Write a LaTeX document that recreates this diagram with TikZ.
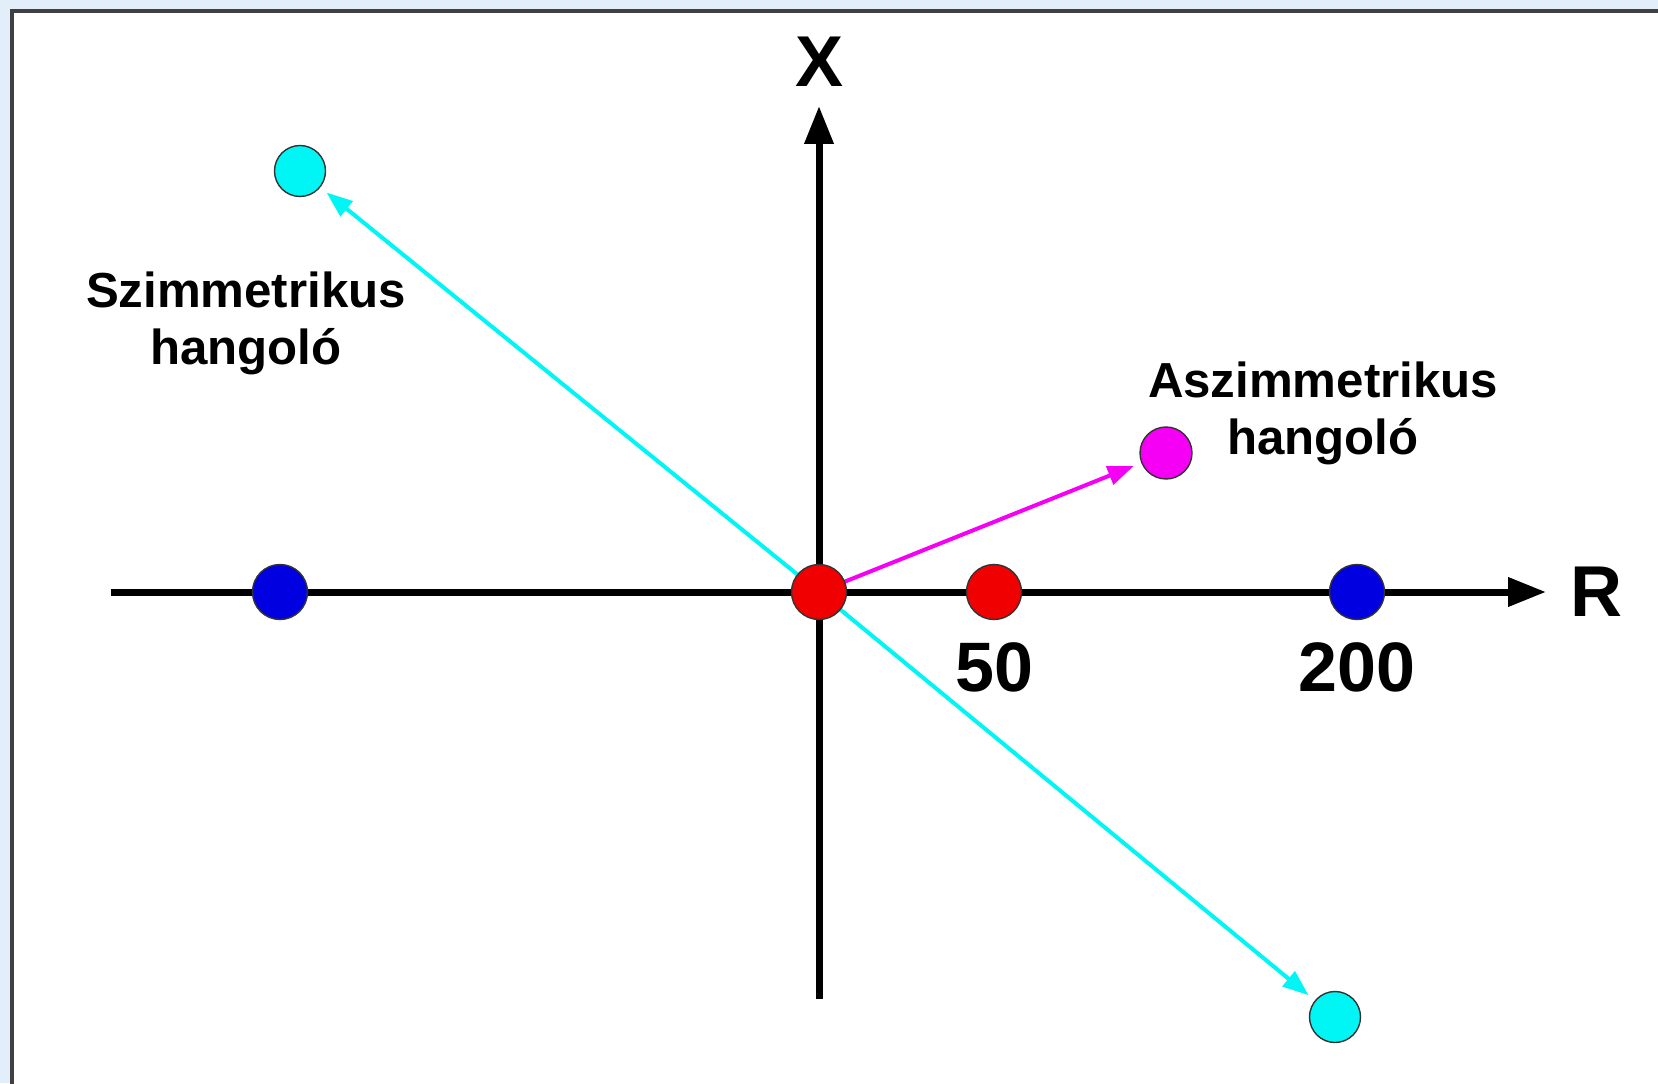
\documentclass[tikz,border=0pt]{standalone}
\usepackage{fontspec}
\setmainfont{Liberation Sans}
\usepackage{xcolor}
\usetikzlibrary{arrows.meta,positioning}
\definecolor{slidebg}{RGB}{226,239,250}
\definecolor{dotblue}{RGB}{0,0,225}
\definecolor{dotred}{RGB}{240,0,0}
\definecolor{dotcyan}{RGB}{0,245,245}
\definecolor{dotmag}{RGB}{245,0,245}

\begin{document}
\begin{tikzpicture}[x=0.5pt,y=0.5pt,
  every node/.style={font=\bfseries},
  dot/.style={circle, draw=black!80, line width=0.7pt, minimum size=27.5pt, inner sep=0pt},
  bluedot/.style={dot, fill=dotblue},
  reddot/.style={dot, fill=dotred},
  cyandot/.style={dot, fill=dotcyan, minimum size=25.5pt},
  magdot/.style={dot, fill=dotmag, minimum size=26pt},
  axis/.style={line width=3.5pt, -{Triangle[length=19pt,width=14pt]}},
  cyanarr/.style={dotcyan, line width=2pt, -{Triangle[length=13pt,width=9.5pt]}, shorten >=4pt},
  magarr/.style={dotmag, line width=2pt, -{Triangle[length=13pt,width=9.5pt]}, shorten >=4pt},
  axlbl/.style={inner sep=0pt, font=\fontsize{36}{36}\selectfont\bfseries},
  numlbl/.style={inner sep=0pt, font=\fontsize{35}{35}\selectfont\bfseries},
  txt/.style={align=center, inner sep=0pt, font=\fontsize{24.6}{28.5}\selectfont\bfseries}
]
\clip (0,0) rectangle (1658,1083);
\useasboundingbox (0,0) rectangle (1658,1083);

% slide background and frame
\fill[slidebg] (0,0) rectangle (1658,1083);
\draw[fill=white, draw=black!75, line width=1.6pt] (12,-10) rectangle (1675,1072);

% axes
\coordinate (o)  at (819,491);
\coordinate (rL) at (111,491);
\coordinate (rR) at (1546,491);
\coordinate (xB) at (819,84);
\coordinate (xT) at (819,977);

\node[cyandot] (cTL) at (300,912) {};
\node[cyandot] (cBR) at (1335,66) {};
\node[magdot]  (mA)  at (1166,630) {};

\draw[axis] (rL) -- (rR);
\draw[axis] (xB) -- (xT);
\node[axlbl, right=12pt of rR] (lR) {R};
\node[axlbl, above=9.5pt of xT] (lX) {X};

% tuning arrows
\draw[cyanarr] (o) -- (cTL);
\draw[cyanarr] (o) -- (cBR);
\draw[magarr]  (o) -- (mA);

\node[bluedot] (b1)   at (280,491) {};
\node[bluedot] (b200) at (1357,491) {};
\node[reddot]  (r0)   at (o) {};
\node[reddot]  (r50)  at (994,491) {};

\node[numlbl, below=11pt of r50]  (l50)  {50};
\node[numlbl, below=11pt of b200] (l200) {200};

\node[txt] (szim)  at (246,760)  {Szimmetrikus\\hangoló};
\node[txt] (aszim) at (1323,670) {Aszimmetrikus\\hangoló};
\end{tikzpicture}
\end{document}
